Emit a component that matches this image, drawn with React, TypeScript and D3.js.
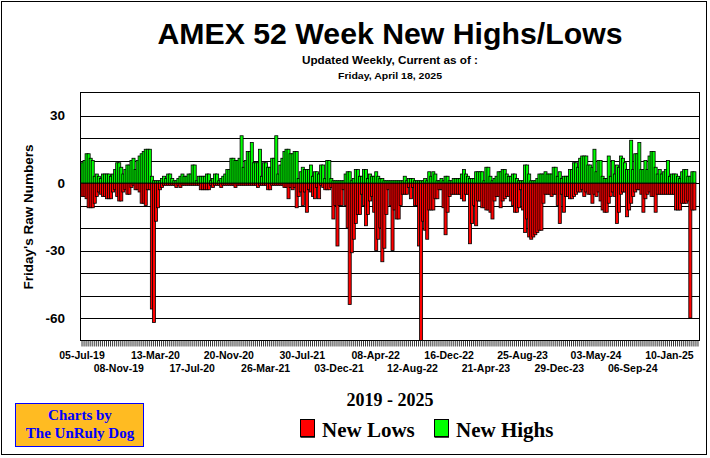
import React, { useEffect, useRef } from 'react';
import * as d3 from 'd3';

// weekly Friday readings, 05-Jul-19 .. 18-Apr-25
const firstWeek = new Date(2019, 6, 5);

const newHighs = [
  9, 10, 13, 13, 11, 10, 3, 4, 3, 2,
  4, 4, 4, 4, 3, 4, 6, 9, 9, 7,
  4, 6, 8, 8, 10, 11, 6, 10, 12, 13,
  14, 15, 15, 15, 3, 1, 1, 1, 1, 2,
  3, 2, 4, 4, 2, 1, 1, 2, 3, 4,
  3, 3, 4, 4, 8, 8, 1, 3, 3, 3,
  3, 4, 4, 1, 2, 4, 4, 1, 2, 3,
  4, 6, 6, 11, 11, 10, 10, 11, 21, 7,
  10, 14, 14, 18, 9, 9, 9, 15, 3, 9,
  9, 7, 7, 11, 11, 21, 4, 8, 11, 14,
  15, 15, 13, 13, 14, 14, 2, 5, 7, 6,
  6, 6, 8, 3, 5, 5, 4, 8, 8, 2,
  10, 10, 2, 1, 1, 1, 1, 1, 1, 4,
  5, 5, 1, 2, 6, 6, 3, 3, 6, 6,
  2, 4, 3, 3, 5, 3, 2, 2, 1, 1,
  1, 1, 1, 1, 1, 1, 1, 1, 3, 1,
  2, 2, 2, 1, 1, 1, 1, 1, 2, 1,
  5, 3, 5, 4, 1, 1, 2, 1, 3, 3,
  1, 1, 2, 2, 2, 2, 4, 6, 4, 3,
  2, 2, 2, 5, 5, 5, 5, 1, 7, 7,
  3, 1, 2, 3, 5, 5, 6, 6, 4, 3,
  3, 4, 4, 2, 1, 1, 1, 8, 8, 4,
  1, 1, 1, 2, 4, 4, 4, 5, 4, 4,
  4, 7, 7, 3, 5, 2, 3, 3, 3, 6,
  6, 9, 9, 7, 11, 12, 12, 12, 8, 8,
  7, 15, 5, 10, 10, 3, 2, 2, 12, 3,
  10, 4, 8, 7, 12, 11, 9, 6, 6, 19,
  6, 13, 13, 18, 6, 6, 10, 6, 12, 14,
  14, 7, 4, 6, 4, 5, 6, 10, 3, 4,
  4, 4, 3, 2, 5, 6, 6, 3, 3, 5,
  5, 0, 0
];

const newLows = [
  -6, -6, -7, -11, -11, -11, -9, -6, -4, -5,
  -6, -6, -7, -7, -7, -4, -3, -6, -8, -8,
  -4, -3, -5, -5, -2, -1, -3, -3, -4, -9,
  -9, -10, -3, -3, -56, -62, -17, -11, -3, -2,
  -1, -1, -1, -1, -1, -1, -2, -1, -2, -1,
  -1, -1, -1, -1, -1, -1, -1, -1, -3, -3,
  -3, -3, -3, -1, -2, -1, -1, -1, -2, -1,
  -1, -1, -1, -1, -1, -2, -1, -1, -1, -1,
  -1, -1, -1, -1, -1, -1, -2, -1, -1, -1,
  -1, -3, -3, -1, -1, -1, -1, -1, -1, -2,
  -2, -7, -2, -3, -2, -11, -6, -4, -10, -4,
  -13, -3, -4, -6, -7, -2, -7, -1, -2, -3,
  -3, -3, -2, -16, -10, -28, -10, -10, -3, -10,
  -20, -54, -31, -25, -18, -14, -14, -5, -10, -19,
  -14, -8, -6, -13, -30, -25, -20, -35, -29, -14,
  -3, -10, -30, -12, -16, -16, -10, -5, -5, -5,
  -2, -7, -2, -10, -10, -28, -70, -17, -21, -25,
  -12, -12, -12, -7, -7, -3, -3, -11, -23, -13,
  -6, -5, -5, -5, -5, -5, -7, -8, -5, -5,
  -27, -18, -10, -19, -8, -8, -11, -11, -12, -12,
  -13, -16, -8, -6, -6, -11, -8, -7, -6, -6,
  -8, -10, -13, -13, -11, -3, -12, -22, -16, -24,
  -25, -24, -23, -22, -21, -21, -9, -5, -5, -5,
  -6, -5, -5, -10, -18, -5, -13, -6, -6, -7,
  -7, -6, -5, -4, -4, -3, -6, -4, -5, -5,
  -9, -5, -6, -4, -8, -12, -13, -13, -9, -6,
  -4, -6, -18, -13, -5, -4, -4, -15, -12, -9,
  -6, -4, -3, -3, -5, -13, -7, -5, -4, -6,
  -6, -13, -5, -5, -5, -5, -5, -5, -5, -5,
  -5, -12, -12, -12, -9, -9, -9, -8, -60, -12,
  -12, 0, 0
];

const yLabels = [30, 0, -30, -60];
const gridValues = [30, 20, 10, 0, -10, -20, -30, -40, -50, -60];
const labelEvery = 18;

const App = () => {
  const svgRef = useRef<SVGSVGElement>(null);

  useEffect(() => {
    const svg = d3.select(svgRef.current);
    svg.selectAll('*').remove();

    const W = 710, H = 458;
    const plot = { left: 81, right: 699, top: 93, bottom: 340.5 };
    const weeks = d3.range(newHighs.length).map(i => d3.timeWeek.offset(firstWeek, i));

    const x = d3.scaleBand<number>()
      .domain(d3.range(weeks.length))
      .range([plot.left, plot.right])
      .padding(0);
    const y = d3.scaleLinear().domain([-70, 40]).range([plot.bottom, plot.top]);

    svg.append('rect')
      .attr('x', 0).attr('y', 0).attr('width', W).attr('height', H)
      .attr('fill', '#fff');
    // outer frame
    svg.append('rect')
      .attr('x', 1.5).attr('y', 1.5).attr('width', 705).attr('height', 453)
      .attr('fill', 'none').attr('stroke', '#000').attr('stroke-width', 1);

    // Titles
    svg.append('text')
      .attr('x', 390).attr('y', 43.5)
      .attr('text-anchor', 'middle')
      .attr('font-family', '"Liberation Sans", Arial, sans-serif')
      .attr('font-weight', 'bold').attr('font-size', 30)
      .attr('textLength', 465).attr('lengthAdjust', 'spacingAndGlyphs')
      .text('AMEX 52 Week New Highs/Lows');
    svg.append('text')
      .attr('x', 390).attr('y', 63.5)
      .attr('text-anchor', 'middle')
      .attr('font-family', '"Liberation Sans", Arial, sans-serif')
      .attr('font-weight', 'bold').attr('font-size', 11.5)
      .attr('textLength', 176).attr('lengthAdjust', 'spacingAndGlyphs')
      .text('Updated Weekly, Current as of :');
    svg.append('text')
      .attr('x', 390).attr('y', 78.5)
      .attr('text-anchor', 'middle')
      .attr('font-family', '"Liberation Sans", Arial, sans-serif')
      .attr('font-weight', 'bold').attr('font-size', 9.5)
      .attr('textLength', 104).attr('lengthAdjust', 'spacingAndGlyphs')
      .text('Friday, April 18, 2025');

    // grid lines
    const grid = svg.append('g');
    grid.selectAll('line')
      .data(gridValues)
      .enter().append('line')
      .attr('x1', plot.left).attr('x2', plot.right)
      .attr('y1', d => Math.round(y(d)) + 0.5).attr('y2', d => Math.round(y(d)) + 0.5)
      .attr('stroke', '#000').attr('stroke-width', 1);

    // bars: each bar a bit wider than its band, with a black outline, so
    // neighbours overlap the way the original Excel-style bars do
    const bw = x.bandwidth();
    const drawBars = (vals: number[], color: string) => {
      svg.append('g')
        .selectAll('rect')
        .data(vals.map((v, i) => ({ v, i })).filter(d => d.v !== 0))
        .enter().append('rect')
        .attr('x', d => x(d.i)!)
        .attr('y', d => Math.min(y(d.v), y(0)))
        .attr('width', bw + 1)
        .attr('height', d => Math.abs(y(d.v) - y(0)))
        .attr('fill', color)
        .attr('stroke', '#000')
        .attr('stroke-width', 0.8);
    };
    drawBars(newLows, '#ff0000');
    drawBars(newHighs, '#00ff00');

    // plot frame
    svg.append('rect')
      .attr('x', plot.left - 0.5).attr('y', plot.top - 0.5)
      .attr('width', plot.right - plot.left + 1).attr('height', plot.bottom - plot.top + 0.5)
      .attr('fill', 'none').attr('stroke', '#000').attr('stroke-width', 1);

    // x axis weekly ticks
    const xAxis = svg.append('g')
      .attr('transform', `translate(0,${plot.bottom})`)
      .call(d3.axisBottom(x).tickSize(6).tickFormat(() => ''));
    xAxis.select('.domain').remove();
    xAxis.selectAll('line').attr('stroke', '#000').attr('stroke-width', 0.8);

    const fmt = d3.timeFormat('%d-%b-%y');
    svg.append('g')
      .selectAll('text')
      .data(weeks.map((d, i) => ({ d, i })).filter(d => d.i % labelEvery === 0))
      .enter().append('text')
      .attr('x', d => x(d.i)! + bw / 2)
      .attr('y', (d, k) => (k % 2 === 0 ? 359 : 372))
      .attr('text-anchor', 'middle')
      .attr('font-family', '"Liberation Sans", Arial, sans-serif')
      .attr('font-weight', 'bold').attr('font-size', 10.5)
      .text(d => fmt(d.d));

    // y axis labels
    const yAxis = svg.append('g')
      .attr('transform', `translate(${plot.left},0)`)
      .call(d3.axisLeft(y).tickValues(yLabels).tickSize(0).tickPadding(16).tickFormat(d => String(d)));
    yAxis.select('.domain').remove();
    yAxis.selectAll('text')
      .attr('font-family', '"Liberation Sans", Arial, sans-serif')
      .attr('font-weight', 'bold').attr('font-size', 13.5)
      .attr('fill', '#000');

    svg.append('text')
      .attr('transform', 'translate(33,217) rotate(-90)')
      .attr('text-anchor', 'middle')
      .attr('font-family', '"Liberation Sans", Arial, sans-serif')
      .attr('font-weight', 'bold').attr('font-size', 13.5)
      .text("Friday's Raw Numbers");

    // bottom caption + legend
    svg.append('text')
      .attr('x', 390).attr('y', 406)
      .attr('text-anchor', 'middle')
      .attr('font-family', '"Liberation Serif", "Times New Roman", serif')
      .attr('font-weight', 'bold').attr('font-size', 18)
      .text('2019 - 2025');

    const legendItems = [
      { label: 'New Lows', color: '#ff0000', x: 300 },
      { label: 'New Highs', color: '#00ff00', x: 434 }
    ];
    legendItems.forEach(item => {
      const g = svg.append('g').attr('transform', `translate(${item.x},419)`);
      g.append('rect')
        .attr('x', 0.5).attr('y', 0.5).attr('width', 14).attr('height', 17)
        .attr('fill', item.color).attr('stroke', '#000').attr('stroke-width', 1);
      g.append('line')
        .attr('x1', 0.5).attr('x2', 15).attr('y1', 18).attr('y2', 18)
        .attr('stroke', '#000').attr('stroke-width', 1.5);
      g.append('text')
        .attr('x', 22).attr('y', 17.5)
        .attr('font-family', '"Liberation Serif", "Times New Roman", serif')
        .attr('font-weight', 'bold').attr('font-size', 21)
        .text(item.label);
    });

    // credit box
    const credit = svg.append('g');
    credit.append('rect')
      .attr('x', 15.5).attr('y', 403.5).attr('width', 128).attr('height', 43)
      .attr('fill', '#ffbb22').attr('stroke', '#0000ff').attr('stroke-width', 1);
    credit.append('text')
      .attr('x', 80).attr('y', 420)
      .attr('text-anchor', 'middle')
      .attr('font-family', '"Liberation Serif", "Times New Roman", serif')
      .attr('font-weight', 'bold').attr('font-size', 15)
      .attr('fill', '#0000ff')
      .text('Charts by');
    credit.append('text')
      .attr('x', 80).attr('y', 438)
      .attr('text-anchor', 'middle')
      .attr('font-family', '"Liberation Serif", "Times New Roman", serif')
      .attr('font-weight', 'bold').attr('font-size', 15)
      .attr('fill', '#0000ff')
      .text('The UnRuly Dog');
  }, []);

  return (
    <div style={{ position: 'absolute', left: 0, top: 0, width: 710, height: 458 }}>
      <svg ref={svgRef} width={710} height={458} style={{ display: 'block' }} />
    </div>
  );
};

export default App;
